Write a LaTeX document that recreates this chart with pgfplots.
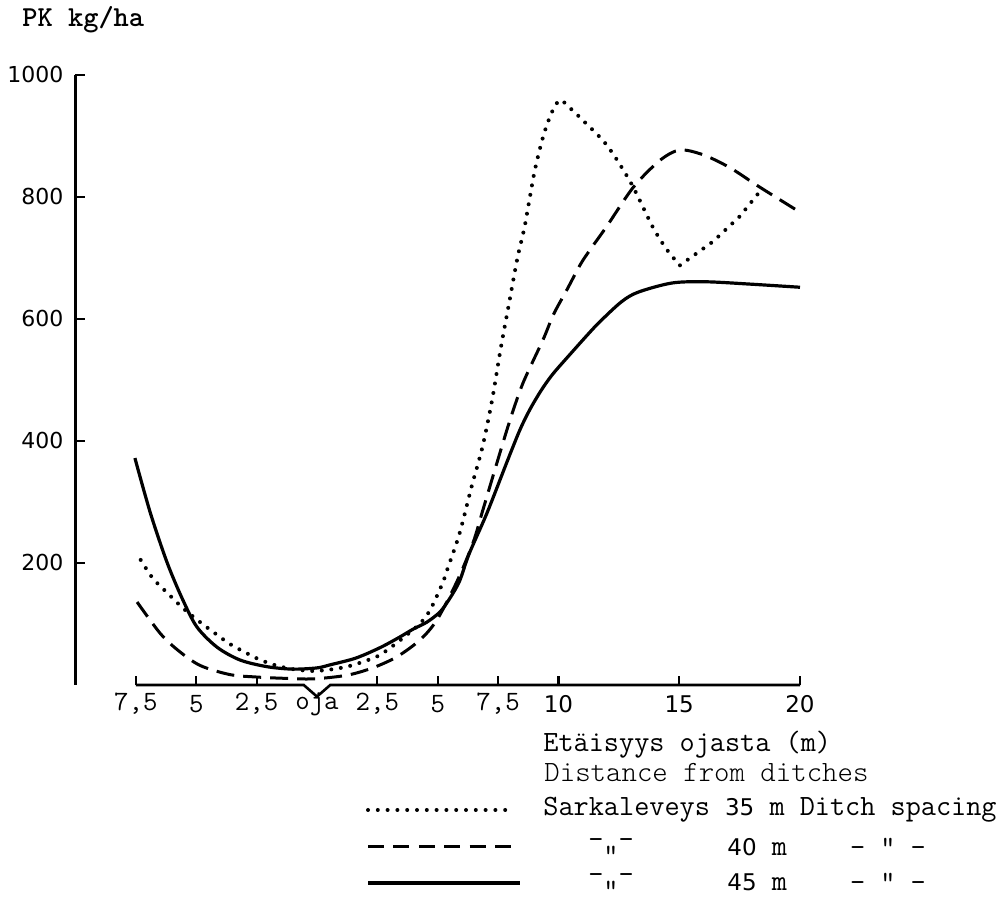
\documentclass[border=0pt]{standalone}
\usepackage{fontspec}
\usepackage{pgfplots}
\pgfplotsset{compat=1.18}
\newfontfamily\dejavu{DejaVu Sans}
\newcommand\mono{\ttfamily\fontsize{14.7}{16}\selectfont}
\newcommand\lab{\ttfamily\fontsize{14}{16}\selectfont}
\newcommand\snum{\dejavu\fontsize{11.5}{13}\selectfont}
\begin{document}
\begin{tikzpicture}
\useasboundingbox (0,0) rectangle (503.5pt,448.5pt);
\begin{axis}[
  at={(37.75pt,106pt)}, anchor=south west,
  scale only axis, width=362.25pt, height=305pt,
  xmin=-10, xmax=20, ymin=0, ymax=1000,
  axis x line=none, axis y line=left,
  axis line style={-, line width=1.3pt},
  ytick={200,400,600,800,1000},
  yticklabels={200,400,600,800,1000},
  yticklabel style={font=\dejavu\fontsize{11}{12}\selectfont, xshift=-2.5pt},
  tick align=inside,
  major tick length=4.5pt,
  tick style={line width=1.1pt, black},
  clip=false,
]
% 35 m (dotted)
\addplot[black, line width=2pt, line cap=round, dash pattern=on 0pt off 4.8pt, smooth, tension=0.5] coordinates {
(-7.3,205) (-6.8,175) (-6.2,151) (-5.55,126) (-4.84,103) (-4.2,84) (-3.6,67)
(-3.0,54) (-2.4,42) (-1.7,32) (-1.0,26) (-0.2,23) (0.5,25) (1.24,30) (1.9,38)
(2.6,49) (3.4,72) (3.9,88) (4.3,102) (4.7,124) (5.2,167) (5.4,190) (5.9,248)
(6.4,325) (6.85,390) (7.25,467) (7.6,550) (7.95,625) (8.3,700) (8.6,752)
(9.0,840) (9.35,897) (9.65,932) (9.9,952) (10.1,959) (10.5,945) (11.0,926)
(12.0,885) (13.0,823) (13.9,751) (14.5,713) (15.03,688)
};
\addplot[black, line width=2pt, line cap=round, dash pattern=on 0pt off 4.8pt] coordinates {
(15.03,688) (16.4,727) (17.5,768) (18.4,812)
};
% 40 m (dashed)
\addplot[black, line width=1.5pt, dash pattern=on 9pt off 4.5pt, smooth] coordinates {
(-7.45,136) (-6.5,85) (-5.76,57) (-4.84,32) (-3.6,17) (-2.48,13) (-1.4,11)
(-0.17,10) (1.24,16) (2.3,28) (3.3,46) (4.27,74) (4.97,107) (5.8,170)
(6.46,233) (6.87,287) (7.45,364) (7.99,434) (8.53,495) (9.36,566) (9.8,608)
(10.35,648) (10.9,689) (11.3,713) (12.0,752) (13.1,816) (14.2,860) (15.03,877)
(16.0,869) (17.1,848) (18.3,817) (20.0,775)
};
% 45 m (solid)
\addplot[black, line width=1.6pt, smooth] coordinates {
(-7.54,372) (-6.9,282) (-6.2,200) (-5.55,139) (-4.97,95) (-4.14,62) (-3.19,41)
(-2.07,30) (-1.0,26) (0.0,28) (0.54,33) (1.6,44) (2.6,61) (3.4,78) (4.0,92)
(4.55,103) (5.1,120) (5.5,142) (5.9,170) (6.3,215) (7.04,282) (7.87,366)
(8.4,418) (8.82,452) (9.3,484) (9.77,510) (10.5,543) (11.2,574) (11.7,595)
(12.6,628) (13.3,644) (14.7,659) (16.1,661) (18.0,657) (20.0,652)
};
% x axis line with notch at the ditch
\draw[line width=1.3pt] (axis cs:-7.5,0) -- (axis cs:-0.55,0) -- (axis cs:0,-19) -- (axis cs:0.55,0) -- (axis cs:20,0);
\pgfplotsinvokeforeach{-7.5,-5,-2.5,2.5,5,7.5,10,15,20}{
  \draw[line width=1.1pt] (axis cs:#1,0) -- ++(0pt,4.5pt);
}
\node[font=\lab, yshift=-9.5pt] at (axis cs:-7.5,0) {7,5};
\node[font=\lab, yshift=-9.5pt] at (axis cs:-5,0) {5};
\node[font=\lab, yshift=-9.5pt] at (axis cs:-2.5,0) {2,5};
\node[font=\lab, yshift=-9.5pt] at (axis cs:0,0) {oja};
\node[font=\lab, yshift=-9.5pt] at (axis cs:2.5,0) {2,5};
\node[font=\lab, yshift=-9.5pt] at (axis cs:5,0) {5};
\node[font=\lab, yshift=-9.5pt] at (axis cs:7.5,0) {7,5};
\node[font=\snum, yshift=-9.5pt] at (axis cs:10,0) {10};
\node[font=\snum, yshift=-9.5pt] at (axis cs:15,0) {15};
\node[font=\snum, yshift=-9.5pt] at (axis cs:20,0) {20};
\end{axis}
% y axis title
\node[anchor=west, inner sep=0pt, font=\ttfamily\bfseries\fontsize{14.5}{16}\selectfont] at (11pt,438.5pt) {PK kg/ha};
% x axis title
\node[anchor=west, inner sep=0pt, font=\mono] at (271.5pt,76pt) {Etäisyys ojasta (m)};
\node[anchor=west, inner sep=0pt, font=\mono\fontseries{l}\selectfont] at (272pt,62pt) {Distance from ditches};
% legend
\draw[line width=2pt, line cap=round, dash pattern=on 0pt off 4.9pt] (184pt,43.5pt) -- (256.5pt,43.5pt);
\draw[line width=1.5pt, dash pattern=on 8pt off 4.7pt] (184pt,25pt) -- (257.5pt,25pt);
\draw[line width=1.6pt] (184pt,7pt) -- (260pt,7pt);
\node[anchor=west, inner sep=0pt, font=\mono] at (271.5pt,43.5pt) {Sarkaleveys {\snum 35} m Ditch spacing};
\node[inner sep=0pt, font=\mono] at (305.5pt,25pt) {-„-};
\node[anchor=west, inner sep=0pt, font=\mono] at (363.5pt,25pt) {{\snum 40} m};
\node[inner sep=0pt, font=\mono] at (444pt,25pt) {- " -};
\node[inner sep=0pt, font=\mono] at (305.5pt,7.5pt) {-„-};
\node[anchor=west, inner sep=0pt, font=\mono] at (363.5pt,7.5pt) {{\snum 45} m};
\node[inner sep=0pt, font=\mono] at (444pt,7.5pt) {- " -};
\end{tikzpicture}
\end{document}
